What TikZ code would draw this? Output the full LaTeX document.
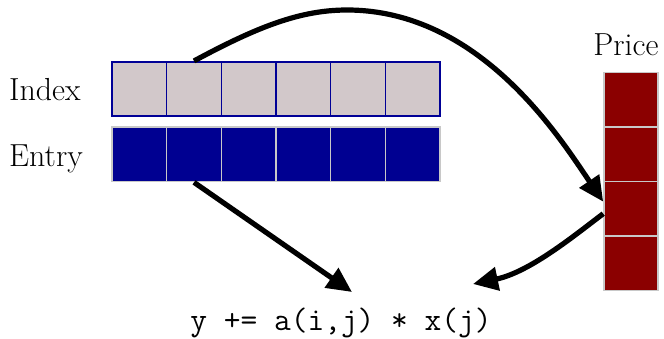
\documentclass[tikz,border=0pt]{standalone}
\usetikzlibrary{arrows.meta}
\definecolor{idxfill}{RGB}{210,200,202}
\definecolor{idxline}{RGB}{0,0,150}
\definecolor{entfill}{RGB}{0,0,145}
\definecolor{cellline}{RGB}{200,200,200}
\definecolor{pricefill}{RGB}{139,0,0}
\begin{document}
\begin{tikzpicture}[x=1bp,y=-1bp,
  cell/.style={minimum width=54.67bp, minimum height=54.5bp, inner sep=0pt, line width=1.6bp},
  idxcell/.style={cell, fill=idxfill, draw=idxline},
  entcell/.style={cell, fill=entfill, draw=cellline},
  pricecell/.style={cell, minimum width=54bp, fill=pricefill, draw=cellline},
  lbl/.style={font=\fontsize{32}{38}\selectfont, inner sep=0pt},
  arr/.style={line width=5.2bp, -{Triangle[length=25bp,width=23bp]}}]
\useasboundingbox (0,0) rectangle (664,338);
\foreach \k in {1,...,6}{
  \node[idxcell] (i\k) at ({112+54.67*(\k-0.5)},89) {};
  \node[entcell] (e\k) at ({112+54.67*(\k-0.5)},154.3) {};
}
\foreach \k in {1,...,4}{
  \node[pricecell] (p\k) at (631,{72.7+54.4*(\k-0.5)}) {};
}
\node[lbl, anchor=base west] (ilabel) at (9,100) {Index};
\node[lbl, anchor=base west] (elabel) at (9,166) {Entry};
\node[lbl, anchor=base] (plabel) at (626,55) {Price};
\node[font=\ttfamily\fontsize{32.6}{38}\selectfont, anchor=base, inner sep=0pt] (code) at (341,330) {y += a(i,j) * x(j)};
\coordinate (a2end) at (352,292);
\coordinate (a3end) at (473,284);
\draw[arr] (i2.north) .. controls (257,27) and (300,10) .. (347,10) .. controls (480,10) and (560,138) .. ([yshift=7bp]p3.west);
\draw[arr] (e2.south) -- (a2end);
\draw[arr] ([yshift=-5bp]p3.west) .. controls (575,235) and (530,272) .. (a3end);
\end{tikzpicture}
\end{document}
